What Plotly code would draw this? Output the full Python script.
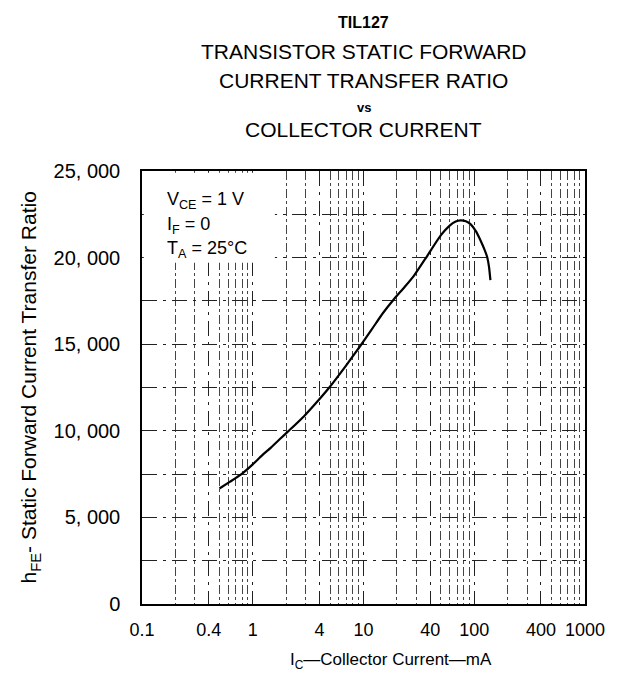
import plotly.graph_objects as go

# Data
ic_ma = [0.5, 0.62, 0.785, 1.0, 1.2, 1.46, 1.8, 2.14, 2.92, 3.99, 4.91, 6.93, 9.14, 12.0, 15.0, 18.9, 23.5, 28.6, 37.8, 49.8, 60, 68, 75, 84, 93, 104, 114, 124, 131, 136, 140]
hfe = [6670, 7050, 7480, 8060, 8550, 9030, 9580, 10030, 10860, 11820, 12500, 13750, 14810, 15900, 16800, 17610, 18300, 18960, 20120, 21280, 21850, 22080, 22150, 22100, 21920, 21500, 20990, 20450, 20020, 19450, 18700]

x_tickvals = [0.1, 0.4, 1, 4, 10, 40, 100, 400, 1000]
x_ticktext = ["0.1", "0.4", "1", "4", "10", "40", "100", "400", "1000"]
x_minor = [m * d for d in [0.1, 1, 10, 100] for m in range(2, 10) if m not in (4,)]
y_tickvals = [0, 5000, 10000, 15000, 20000, 25000]
y_ticktext = ["0", "5, 000", "10, 000", "15, 000", "20, 000", "25, 000"]
y_minor = [2500, 7500, 12500, 17500, 22500]

title_lines = ["TIL127", "TRANSISTOR STATIC FORWARD", "CURRENT TRANSFER RATIO", "vs", "COLLECTOR CURRENT"]
cond_lines = ["V<sub>CE</sub> = 1 V", "I<sub>F</sub> = 0", "T<sub>A</sub> = 25°C"]
x_title = "I<sub>C</sub>—Collector Current—mA"
y_title = "h<sub>FE</sub>- Static Forward Current Transfer Ratio"

FONT = "Liberation Sans, Arial, sans-serif"

fig = go.Figure()
fig.add_trace(go.Scatter(x=ic_ma, y=hfe, mode="lines",
                         line=dict(color="black", width=2.2, shape="spline", smoothing=0.5),
                         showlegend=False, hoverinfo="skip"))

fig.update_layout(
    width=618, height=677,
    margin=dict(l=134, r=41, t=163, b=81),
    paper_bgcolor="white", plot_bgcolor="white",
    font=dict(family=FONT, color="black", size=16),
    showlegend=False,
)

grid = dict(gridcolor="#222", gridwidth=1, griddash="longdashdot")
fig.update_xaxes(
    type="log", range=[-1, 3],
    tickvals=x_tickvals, ticktext=x_ticktext, ticks="",
    tickfont=dict(size=18), ticklabelstandoff=9,
    showline=True, linecolor="black", linewidth=1.5, mirror=True,
    showgrid=True, **grid,
    minor=dict(tickvals=x_minor, showgrid=True, gridcolor="#444", gridwidth=1, griddash="dashdot", ticks=""),
    zeroline=False,
)
fig.update_yaxes(
    range=[0, 25000],
    tickvals=y_tickvals, ticktext=y_ticktext, ticks="",
    tickfont=dict(size=20), ticklabelstandoff=16,
    showline=True, linecolor="black", linewidth=1.5, mirror=True,
    showgrid=True, **grid,
    minor=dict(tickvals=y_minor, showgrid=True, ticks="", **grid),
    zeroline=False,
)

# white box behind the condition text
fig.add_shape(type="rect", xref="paper", yref="paper", x0=0.004, x1=0.30, y0=0.788, y1=0.996,
              fillcolor="white", line=dict(width=0), layer="above")

# condition labels
for i, (t, yy) in enumerate(zip(cond_lines, [0.931, 0.873, 0.818])):
    fig.add_annotation(text=t, xref="paper", yref="paper", x=0.052, y=yy,
                       xanchor="left", yanchor="middle", showarrow=False, font=dict(size=18))

# axis titles
fig.add_annotation(text=x_title, xref="paper", yref="paper", x=0.561, y=0, yshift=-57,
                   xanchor="center", yanchor="middle", showarrow=False, font=dict(size=17))
fig.add_annotation(text=y_title, xref="paper", yref="paper", x=-0.253, y=0.5,
                   xanchor="center", yanchor="middle", textangle=-90, showarrow=False,
                   font=dict(size=21))

# titles
shifts = [149, 120, 91, 64, 42]
sizes = [16, 21, 21, 13, 21]
for t, s, sz in zip(title_lines, shifts, sizes):
    txt = "<b>%s</b>" % t if t in ("TIL127", "vs") else t
    fig.add_annotation(text=txt, xref="paper", yref="paper", x=0.5, y=1.0, yshift=s,
                       showarrow=False, font=dict(size=sz), yanchor="middle")

fig.write_html("out.html")
